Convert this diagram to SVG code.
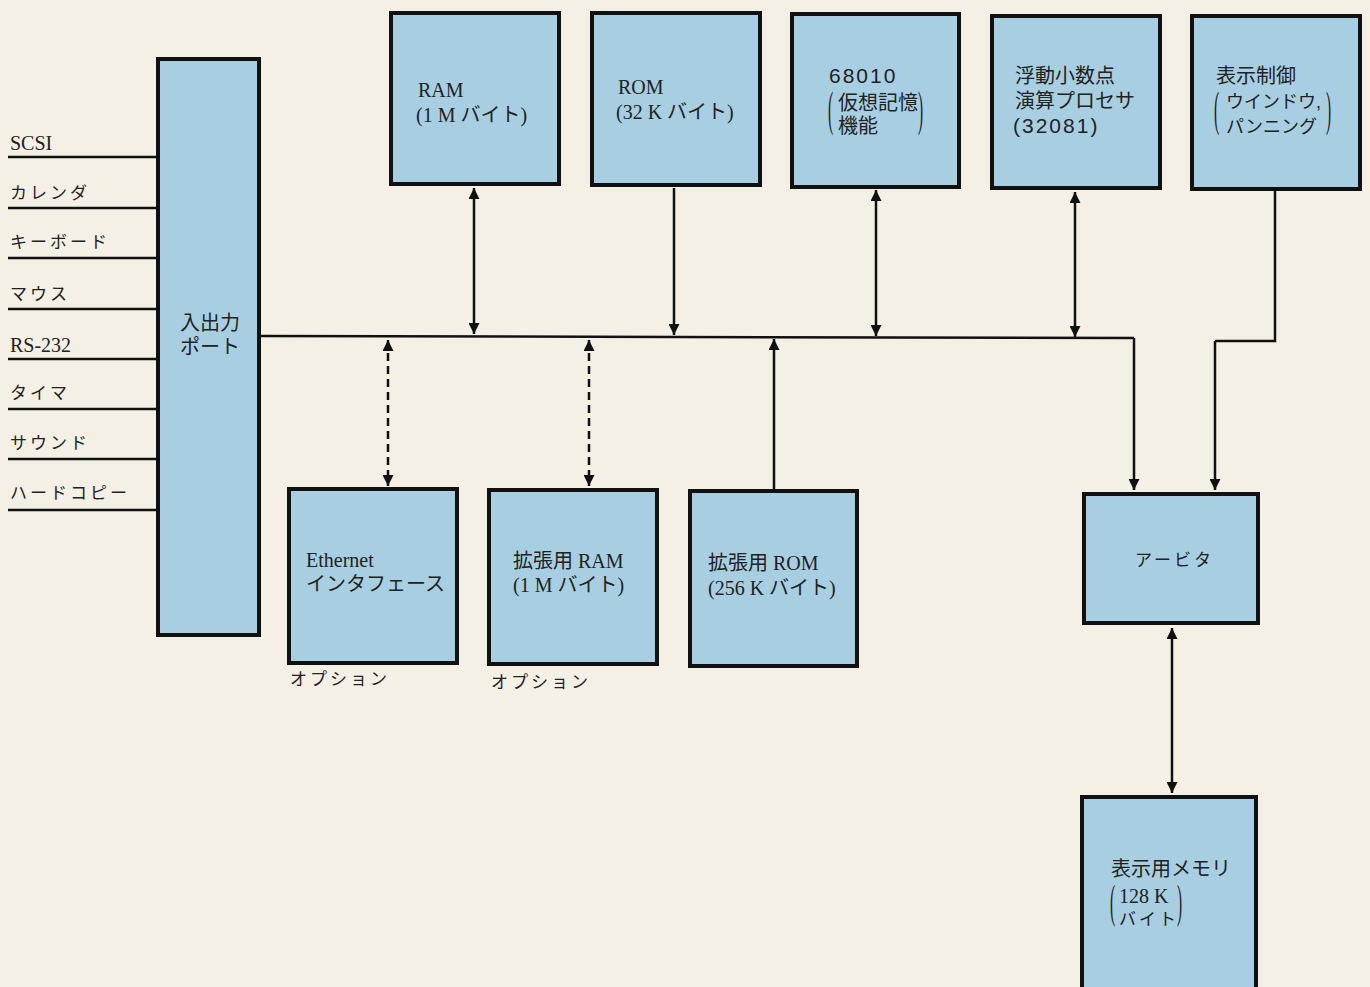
<svg xmlns="http://www.w3.org/2000/svg" width="1370" height="987" viewBox="0 0 1370 987">
<defs>
<marker id="ah" viewBox="0 0 10 10" refX="10" refY="5" markerWidth="12" markerHeight="11" markerUnits="userSpaceOnUse" orient="auto-start-reverse">
<path d="M0,0 L10,5 L0,10 z" fill="#111"/>
</marker>
<style>
.box{fill:#a8cfe1;stroke:#111;stroke-width:4}
.t{font-family:"Liberation Serif","Noto Sans CJK JP",serif;font-size:20px;fill:#222}
.g{font-family:"Liberation Sans","Noto Sans CJK JP",sans-serif;font-size:20px;fill:#222}
.n{font-family:"Liberation Sans","Noto Sans CJK JP",sans-serif;font-size:21px;fill:#222;letter-spacing:2px}
.k{font-family:"Liberation Serif","Noto Sans CJK JP",serif;font-size:17px;fill:#222;letter-spacing:3px}
.ln{fill:none;stroke:#111;stroke-width:2.5}
.ar{fill:none;stroke:#111;stroke-width:2.5;marker-end:url(#ah)}
.ar2{fill:none;stroke:#111;stroke-width:2.5;marker-end:url(#ah);marker-start:url(#ah)}
.da{fill:none;stroke:#111;stroke-width:2.5;stroke-dasharray:8 5;marker-end:url(#ah);marker-start:url(#ah)}
.p{font-family:"Liberation Serif",serif;font-size:22px;fill:#222}
</style>
</defs>
<rect width="1370" height="987" fill="#f4f0e6"/>

<g id="connectors">
<path class="ln" d="M260,336 L1134,338"/>
<path class="ar" d="M1134,338 L1134,490"/>
<path class="ln" d="M1275,190 L1275,341 L1215,341"/>
<path class="ar" d="M1215,341 L1215,490"/>
<path class="ar2" d="M474,188 L474,334"/>
<path class="ar" d="M674,188 L674,335"/>
<path class="ar2" d="M876,190 L876,336"/>
<path class="ar2" d="M1075,192 L1075,337"/>
<path class="da" d="M388,340 L388,486"/>
<path class="da" d="M589,340 L589,486"/>
<path class="ar" d="M774,489 L774,339"/>
<path class="ar2" d="M1172,628 L1172,793"/>
<path class="ln" d="M8,157 L158,157"/>
<path class="ln" d="M8,208 L158,208"/>
<path class="ln" d="M8,258 L158,258"/>
<path class="ln" d="M8,309 L158,309"/>
<path class="ln" d="M8,359 L158,359"/>
<path class="ln" d="M8,409 L158,409"/>
<path class="ln" d="M8,459 L158,459"/>
<path class="ln" d="M8,510 L158,510"/>
</g>

<g id="io-labels">
<text class="t" x="10" y="150">SCSI</text>
<text class="k" x="10" y="199">カレンダ</text>
<text class="k" x="10" y="248">キーボード</text>
<text class="k" x="10" y="300">マウス</text>
<text class="t" x="10" y="352">RS-232</text>
<text class="k" x="10" y="399">タイマ</text>
<text class="k" x="10" y="449">サウンド</text>
<text class="k" x="10" y="499">ハードコピー</text>
</g>

<g id="io-port">
<rect class="box" x="158" y="59" width="101" height="576"/>
<text class="t" x="180" y="330">入出力</text>
<text class="t" x="180" y="354">ポート</text>
</g>

<g id="ram">
<rect class="box" x="391" y="13" width="168" height="171"/>
<text class="t" x="418" y="97">RAM</text>
<text class="t" x="416" y="122">(1 M バイト)</text>
</g>

<g id="rom">
<rect class="box" x="592" y="13" width="168" height="172"/>
<text class="t" x="618" y="94">ROM</text>
<text class="t" x="616" y="119">(32 K バイト)</text>
</g>

<g id="cpu">
<rect class="box" x="792" y="14" width="167" height="173"/>
<text class="n" x="829" y="83">68010</text>
<text class="p" transform="translate(828,125) scale(0.7,2.2)">(</text>
<text class="g" x="838" y="110">仮想記憶</text>
<text class="g" x="838" y="133">機能</text>
<text class="p" transform="translate(918,125) scale(0.7,2.2)">)</text>
</g>

<g id="fpu">
<rect class="box" x="992" y="16" width="168" height="172"/>
<text class="g" x="1015" y="83">浮動小数点</text>
<text class="g" x="1015" y="108">演算プロセサ</text>
<text class="n" x="1013" y="133">(32081)</text>
</g>

<g id="display-ctrl">
<rect class="box" x="1192" y="16" width="168" height="173"/>
<text class="g" x="1216" y="83">表示制御</text>
<text class="p" transform="translate(1214,125) scale(0.7,2.2)">(</text>
<text class="g" x="1226" y="108" style="font-size:18px">ウインドウ,</text>
<text class="g" x="1226" y="133" style="font-size:18px">パンニング</text>
<text class="p" transform="translate(1326,125) scale(0.7,2.2)">)</text>
</g>

<g id="ethernet">
<rect class="box" x="289" y="489" width="168" height="174"/>
<text class="t" x="306" y="567">Ethernet</text>
<text class="t" x="306" y="591">インタフェース</text>
<text class="k" x="290" y="685">オプション</text>
</g>

<g id="ext-ram">
<rect class="box" x="489" y="490" width="168" height="174"/>
<text class="t" x="513" y="568">拡張用 RAM</text>
<text class="t" x="513" y="592">(1 M バイト)</text>
<text class="k" x="491" y="688">オプション</text>
</g>

<g id="ext-rom">
<rect class="box" x="690" y="491" width="167" height="175"/>
<text class="t" x="708" y="570">拡張用 ROM</text>
<text class="t" x="708" y="595">(256 K バイト)</text>
</g>

<g id="arbiter">
<rect class="box" x="1084" y="494" width="174" height="129"/>
<text class="k" x="1135" y="566">アービタ</text>
</g>

<g id="display-mem">
<rect class="box" x="1082" y="797" width="174" height="196"/>
<text class="t" x="1111" y="876">表示用メモリ</text>
<text class="p" transform="translate(1110,917) scale(0.7,2.1)">(</text>
<text class="t" x="1119" y="903">128 K</text>
<text class="k" x="1119" y="925">バイト</text>
<text class="p" transform="translate(1177,917) scale(0.7,2.1)">)</text>
</g>
</svg>
